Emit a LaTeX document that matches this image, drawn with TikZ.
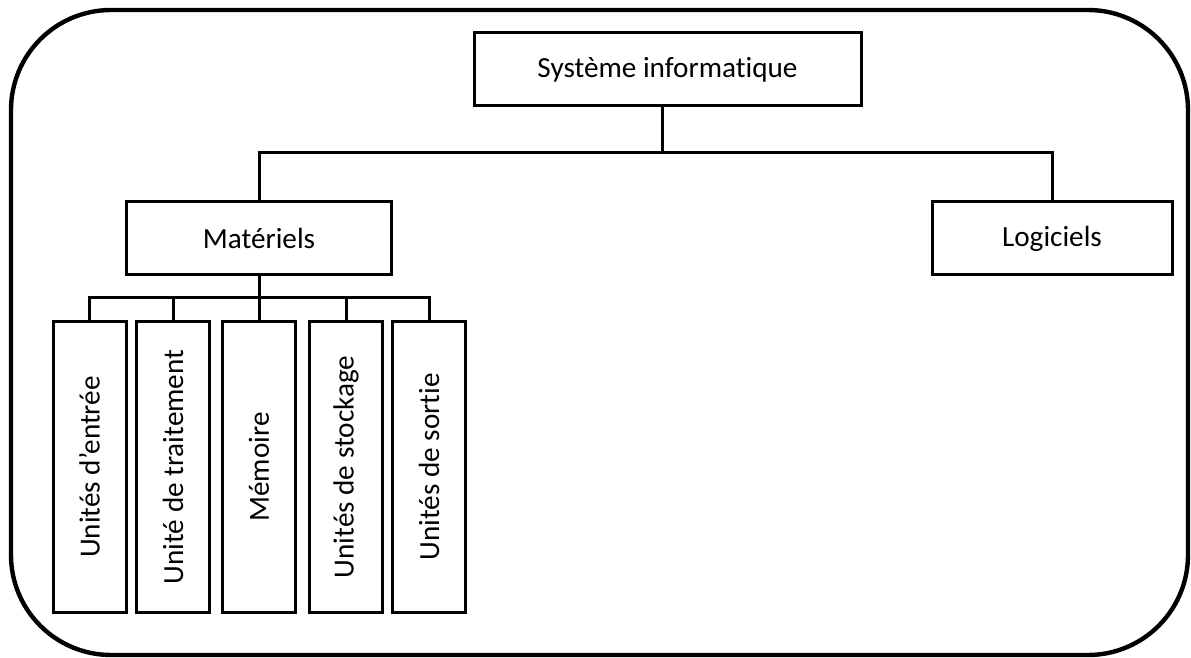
\documentclass[tikz,border=0pt]{standalone}
\usepackage{fontspec}
\setmainfont{Carlito}[Ligatures={NoCommon}]
\usepackage{xcolor}
\usepackage{tikz}

\tikzset{
  box/.style={rectangle,draw,line width=1.5pt,inner sep=0pt,minimum height=36.5pt},
  unit/.style={rectangle,draw,line width=1.5pt,inner sep=0pt,minimum width=36.5pt,minimum height=145pt},
  link/.style={line width=1.5pt}
}

\begin{document}
\begin{tikzpicture}[x=0.5pt,y=-0.5pt,font=\fontsize{14.6}{17}\selectfont]
\useasboundingbox (0,0) rectangle (1191,658);
\draw[line width=2.2pt,rounded corners=50pt] (11,10) rectangle (1188,655);
\path (667.5,69.5) node(sys) [box,minimum width=193.5pt] {Système informatique}
(259,238.5) node(mat) [box,minimum width=132.5pt] {Matériels}
(1052,238.5) node(log) [box,minimum width=120pt] {Logiciels};
\foreach \name/\x/\txt in {ue/89.5/Unités d’entrée,ut/173/Unité de traitement,mem/259/Mémoire,us/346/Unités de stockage,uso/429/Unités de sortie}
  \node(\name) [unit] at (\x,467) {\rotatebox{90}{\txt}};
\coordinate (top) at (662,153);
\coordinate (low) at (259,298);
\draw[link] (top |- sys.south) -- (top);
\draw[link] (mat.north) |- (top) -| (log.north);
\draw[link] (mat.south) -- (low);
\draw[link] (ue.north) |- (low) -| (uso.north);
\foreach \name in {ut,mem,us}
  \draw[link] (\name.north) -- (\name.north |- low);
\end{tikzpicture}
\end{document}
